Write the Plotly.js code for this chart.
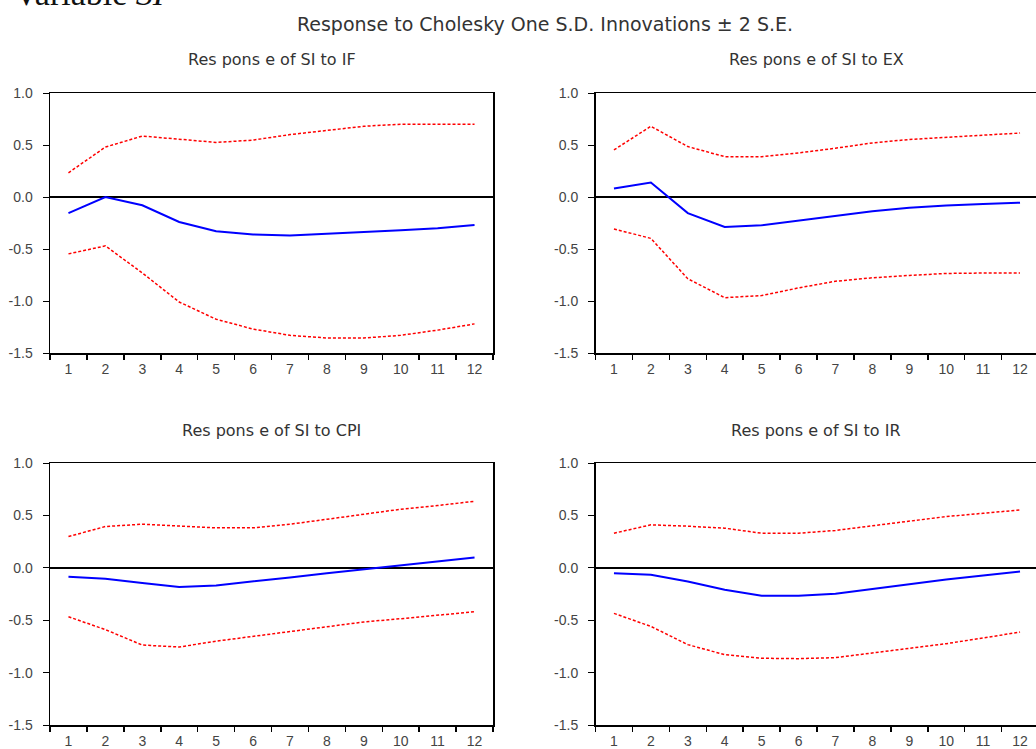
<!DOCTYPE html>
<html>
<head>
<meta charset="utf-8">
<script src="https://cdn.plot.ly/plotly-3.0.1.min.js"></script>
<style>html,body{margin:0;padding:0;overflow:hidden;background:#fff;}</style>
</head>
<body>
<div id="chart" style="width:1040px;height:749px;"></div>
<script>
const periods = ['1','2','3','4','5','6','7','8','9','10','11','12'];

const panelTitles = ['Res pons e of SI to IF','Res pons e of SI to EX','Res pons e of SI to CPI','Res pons e of SI to IR'];

const ifResp  = [-0.155, 0.0, -0.08, -0.24, -0.33, -0.36, -0.37, -0.355, -0.34, -0.32, -0.30, -0.27];
const ifUpper = [0.233, 0.48, 0.586, 0.553, 0.525, 0.547, 0.60, 0.64, 0.68, 0.70, 0.70, 0.70];
const ifLower = [-0.547, -0.47, -0.73, -1.01, -1.175, -1.27, -1.33, -1.356, -1.356, -1.33, -1.28, -1.22];

const exResp  = [0.081, 0.139, -0.155, -0.288, -0.272, -0.227, -0.175, -0.136, -0.104, -0.081, -0.068, -0.055];
const exUpper = [0.453, 0.68, 0.485, 0.388, 0.388, 0.424, 0.469, 0.52, 0.553, 0.576, 0.595, 0.615];
const exLower = [-0.307, -0.398, -0.786, -0.968, -0.948, -0.874, -0.81, -0.777, -0.754, -0.735, -0.731, -0.731];

const cpiResp  = [-0.086, -0.105, -0.146, -0.184, -0.168, -0.133, -0.092, -0.051, -0.013, 0.029, 0.067, 0.098];
const cpiUpper = [0.298, 0.394, 0.416, 0.397, 0.381, 0.381, 0.416, 0.463, 0.508, 0.559, 0.594, 0.635];
const cpiLower = [-0.467, -0.59, -0.737, -0.756, -0.70, -0.654, -0.606, -0.559, -0.517, -0.486, -0.451, -0.419];

const irResp  = [-0.051, -0.067, -0.13, -0.21, -0.267, -0.267, -0.248, -0.203, -0.152, -0.111, -0.073, -0.035];
const irUpper = [0.33, 0.41, 0.397, 0.378, 0.33, 0.33, 0.356, 0.40, 0.444, 0.489, 0.52, 0.552];
const irLower = [-0.435, -0.559, -0.733, -0.829, -0.863, -0.867, -0.857, -0.813, -0.768, -0.724, -0.67, -0.613];

const panels = [
  {resp: ifResp, up: ifUpper, lo: ifLower},
  {resp: exResp, up: exUpper, lo: exLower},
  {resp: cpiResp, up: cpiUpper, lo: cpiLower},
  {resp: irResp, up: irUpper, lo: irLower}
];

const W = 1040, H = 749;
// pixel boxes [x0, x1, yTop, yBottom]
const boxes = [
  [50, 493, 93, 353],
  [595.5, 1038.5, 93, 353],
  [50, 493, 463, 725],
  [595.5, 1038.5, 463, 725]
];

const traces = [];
const layout = {
  width: W, height: H,
  margin: {l: 0, r: 0, t: 0, b: 0},
  paper_bgcolor: '#ffffff',
  plot_bgcolor: '#ffffff',
  showlegend: false,
  font: {family: 'Liberation Sans, Arial, sans-serif', color: '#333'},
  annotations: [],
  title: {
    text: 'Response to Cholesky One S.D. Innovations ± 2 S.E.',
    font: {size: 19, color: '#333', family: 'DejaVu Sans, sans-serif'},
    x: 545 / W, xanchor: 'center', xref: 'paper',
    y: 1 - 24 / H, yanchor: 'middle', yref: 'paper'
  }
};

panels.forEach((p, i) => {
  const n = i + 1;
  const xa = n === 1 ? 'x' : 'x' + n;
  const ya = n === 1 ? 'y' : 'y' + n;
  const b = boxes[i];
  traces.push({x: periods, y: p.up, xaxis: xa, yaxis: ya, mode: 'lines', line: {color: '#ff0000', width: 1.5, dash: '3px,2px'}, hoverinfo: 'skip'});
  traces.push({x: periods, y: p.lo, xaxis: xa, yaxis: ya, mode: 'lines', line: {color: '#ff0000', width: 1.5, dash: '3px,2px'}, hoverinfo: 'skip'});
  traces.push({x: periods, y: p.resp, xaxis: xa, yaxis: ya, mode: 'lines', line: {color: '#0000ff', width: 2}, hoverinfo: 'skip'});

  const xkey = n === 1 ? 'xaxis' : 'xaxis' + n;
  const ykey = n === 1 ? 'yaxis' : 'yaxis' + n;
  layout[xkey] = {
    domain: [b[0] / W, b[1] / W],
    anchor: ya,
    type: 'category',
    categoryorder: 'array', categoryarray: periods,
    range: [-0.5, 11.5],
    showline: true, linecolor: '#000', linewidth: 1.5, mirror: true,
    ticks: 'outside', ticklen: 5, tickwidth: 1.5, tickcolor: '#000',
    tickson: 'boundaries',
    showgrid: false, zeroline: false,
    tickfont: {size: 14, color: '#444'},
    ticklabelstandoff: 3
  };
  layout[ykey] = {
    domain: [1 - b[3] / H, 1 - b[2] / H],
    anchor: xa,
    range: [-1.5, 1.0],
    tickvals: [-1.5, -1.0, -0.5, 0.0, 0.5, 1.0],
    ticktext: ['-1.5', '-1.0', '-0.5', '0.0', '0.5', '1.0'],
    showline: true, linecolor: '#000', linewidth: 1.5, mirror: true,
    ticks: 'outside', ticklen: 6, tickwidth: 1, tickcolor: '#000',
    showgrid: false,
    zeroline: true, zerolinecolor: '#000', zerolinewidth: 1.5,
    tickfont: {size: 14, color: '#444'},
    ticklabelstandoff: 7
  };
  layout.annotations.push({
    text: panelTitles[i],
    xref: 'paper', yref: 'paper',
    x: ((b[0] + b[1]) / 2 - (i % 2 === 1 ? 1 : 0)) / W,
    y: 1 - (b[2] - 33) / H,
    xanchor: 'center', yanchor: 'middle',
    showarrow: false,
    font: {size: 16, color: '#333', family: 'DejaVu Sans, sans-serif'}
  });
});

layout.annotations.push({
  text: 'Variable <i>SI</i>',
  xref: 'paper', yref: 'paper',
  x: 12 / W, y: 1 - 14 / H,
  xanchor: 'left', yanchor: 'bottom',
  showarrow: false,
  font: {size: 34, color: '#111', family: 'Liberation Serif, serif'}
});

Plotly.newPlot('chart', traces, layout, {staticPlot: true, displayModeBar: false});
</script>
</body>
</html>
